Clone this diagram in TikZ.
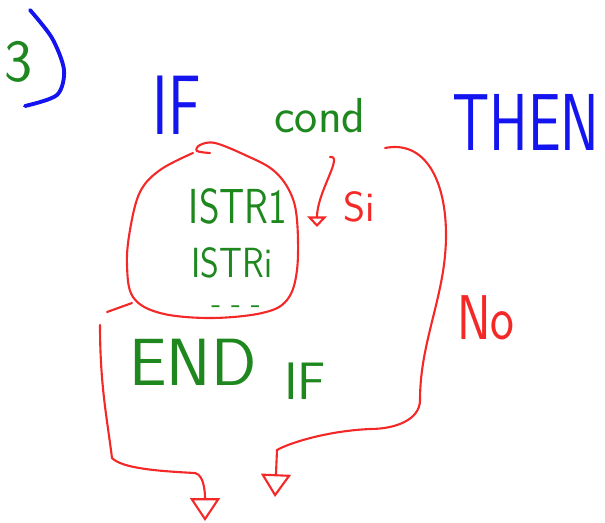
\documentclass[tikz,border=0pt]{standalone}
\usepackage{tikz}
\usetikzlibrary{arrows.meta}
\usepackage{xcolor}
\definecolor{inkblue}{RGB}{20,20,240}
\definecolor{inkgreen}{RGB}{30,135,30}
\definecolor{inkred}{RGB}{245,40,40}
\newcommand{\handtext}[2][0.72]{\scalebox{#1}[1]{#2}}
\tikzstyle{kw} = [text=inkblue, font=\sffamily\fontsize{48}{48}\selectfont, inner sep=0pt]
\tikzstyle{code} = [text=inkgreen, font=\sffamily\fontsize{28}{28}\selectfont, inner sep=0pt]
\tikzstyle{note} = [text=inkred, font=\sffamily\fontsize{24}{24}\selectfont, inner sep=0pt]
\tikzstyle{stroke} = [inkred, line width=1.2pt, line cap=round]
\tikzstyle{flow} = [stroke, -{Triangle[open,width=17pt,length=13pt]}]

\begin{document}
\begin{tikzpicture}[x=0.02cm, y=-0.02cm]
\useasboundingbox (0,0) rectangle (605,522);

% Item number
\node (num) [code, font=\sffamily\fontsize{34}{34}\selectfont] at (19,62) {3};
\draw[inkblue, line width=2.2pt, line cap=round] plot[smooth] coordinates {(30,10) (52,38) (64,70) (57,95) (25,106)};

% Header
\node (ifkw) [kw] at (177,105) {\handtext{IF}};
\node (cond) [code] at (320,116) {cond};
\node (thenkw) [kw, font=\sffamily\fontsize{46}{46}\selectfont] at (526,122) {\handtext{THEN}};

% Then-block
\draw[stroke] plot[smooth, tension=0.6] coordinates {(210,153) (197,151) (200,145) (215,143) (245,155) (273,170) (290,192) (297,220) (297,270) (287,300) (262,313) (210,318) (160,313) (133,297) (127,265) (130,230) (140,192) (160,170) (193,153)};
\node (istra) [code] at (238,206) {\handtext[0.8]{ISTR1}};
\node (istrb) [code, font=\sffamily\fontsize{24}{24}\selectfont] at (232,263) {\handtext[0.85]{ISTRi}};
\node (more) [code, font=\sffamily\fontsize{18}{18}\selectfont] at (236,310) {- - -};

% Branch labels
\node (si) [note] at (359,207) {Si};
\node (no) [note, font=\sffamily\fontsize{36}{36}\selectfont] at (486,318) {\handtext[0.8]{No}};

% End
\node (endkw) [code, font=\sffamily\fontsize{38}{38}\selectfont] at (193,362) {END};
\node (endif) [code, font=\sffamily\fontsize{30}{30}\selectfont] at (305,381) {IF};

% Connector ends
\coordinate (siFrom) at (330,157);
\coordinate (siTo) at (317,227);
\coordinate (noFrom) at (385,148);
\coordinate (noSide) at (446,235);
\coordinate (noLow) at (420,400);
\coordinate (noTurn) at (370,429);
\coordinate (noCorner) at (277,450);
\coordinate (exitB) at (275,497);
\coordinate (loopExit) at (132,303);
\coordinate (exitStub) at (107,312);
\coordinate (exitTop) at (100,325);
\coordinate (exitBend) at (112,458);
\coordinate (exitCorner) at (195,473);
\coordinate (exitA) at (205,521);

% Yes branch
\draw[stroke, -{Triangle[open,width=11pt,length=6pt]}] (siFrom) .. controls +(14,-2) and +(0,-35) .. (siTo);

% No branch
\draw[flow] (noFrom) .. controls +(40,-8) and +(0,-55) .. (noSide)
  .. controls +(0,60) and +(0,-60) .. (noLow)
  .. controls +(0,20) and +(25,0) .. (noTurn)
  .. controls +(-45,2) and +(10,-6) .. (noCorner) -- (exitB);

% Out of the block
\draw[stroke] (loopExit) -- (exitStub);
\draw[flow] (exitTop) .. controls +(0,60) and +(-5,-40) .. (exitBend)
  .. controls +(10,10) and +(-40,-2) .. (exitCorner)
  .. controls +(10,2) and +(0,-25) .. (exitA);
\end{tikzpicture}
\end{document}
